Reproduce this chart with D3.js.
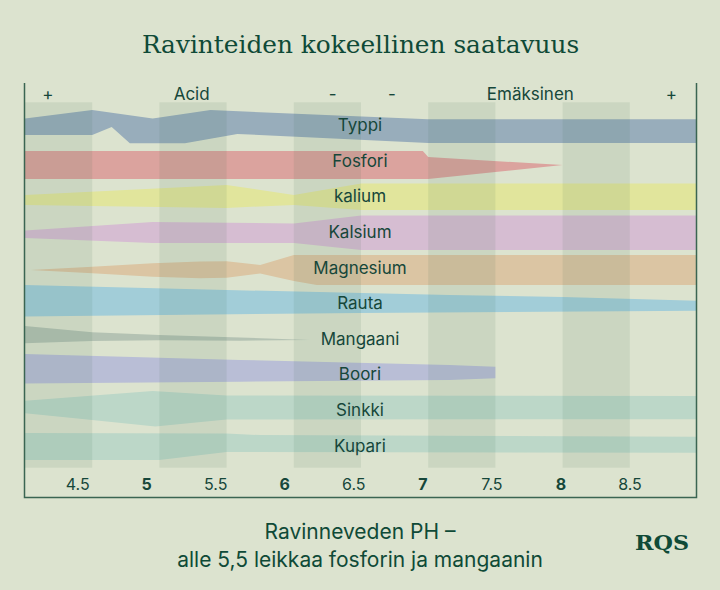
<!DOCTYPE html>
<html><head><meta charset="utf-8">
<script src="https://cdn.jsdelivr.net/npm/d3@7"></script>
<style>
html,body{margin:0;padding:0;background:#dce3cf;}
svg{display:block;}
</style></head>
<body>
<svg id="chart" width="720" height="590"></svg>
<script>
// ---- data ----
const nutrients = ["Typpi","Fosfori","kalium","Kalsium","Magnesium","Rauta","Mangaani","Boori","Sinkki","Kupari"];
const bandColors = ["#98adbb","#dba39e","#e1e59c","#d6bdd2","#dbc5a3","#a2cdd8","#b4c2b3","#b9bed6","#bcd7c8","#bcd7c8"];
// edges: [pH, relative availability offset] (upper edge, lower edge)
const typpiTop = [[4.0,3.65],[4.5,8.4],[4.95,3.65],[5.38,8.4],[7.0,3.2],[9.0,3.2]];
const typpiBottom = [[4.0,-5.6],[4.5,-5.6],[4.645,-1.1],[4.78,-10.3],[5.19,-10.3],[5.58,-5.05],[7.0,-10.1],[9.0,-10.1]];
const fosforiTop = [[4.0,5.4],[6.96,5.4],[7.0,2.0],[8.0,-2.5]];
const fosforiBottom = [[4.0,-10.3],[7.0,-10.3],[8.0,-2.5]];
const kaliumTop = [[4.0,0.67],[5.5,6.3],[6.0,0.67],[6.5,7.1],[9.0,7.1]];
const kaliumBottom = [[4.0,-4.9],[5.5,-6.6],[6.0,-4.9],[6.5,-7.75],[9.0,-7.75]];
const kalsiumTop = [[3.95,-1.4],[4.0,0.73],[4.95,5.5],[6.0,4.66],[6.5,9.16],[9.0,9.16]];
const kalsiumBottom = [[3.95,-1.4],[4.0,-3.5],[4.95,-6.3],[6.0,-6.3],[6.5,-10.2],[9.0,-10.2]];
const magnesiumTop = [[4.04,-1.46],[4.5,0.4],[4.95,2.3],[5.3,3.3],[5.5,3.5],[5.75,1.35],[6.0,7.0],[9.0,7.0]];
const magnesiumBottom = [[4.04,-1.46],[4.5,-3.3],[4.95,-5.2],[5.3,-6.1],[5.5,-5.8],[5.75,-3.4],[6.0,-7.6],[6.17,-9.9],[9.0,-9.9]];
const rautaTop = [[4.0,10.1],[5.5,7.3],[7.16,4.5],[8.0,3.4],[9.0,1.3]];
const rautaBottom = [[4.0,-7.6],[6.5,-5.6],[9.0,-4.3]];
const mangaaniTop = [[4.0,7.1],[4.5,3.5],[5.0,2.0],[5.6,0.6],[6.12,-0.8]];
const mangaaniBottom = [[4.0,-2.6],[4.5,-1.35],[5.0,-0.95],[5.6,-1.2],[6.12,-0.8]];
const booriTop = [[4.0,11.35],[5.6,8.0],[7.16,5.2],[7.5,4.2]];
const booriBottom = [[4.0,-5.2],[5.6,-4.2],[7.16,-3.3],[7.5,-2.3]];
const sinkkiTop = [[4.0,5.1],[4.95,10.6],[5.5,8.0],[9.0,7.75]];
const sinkkiBottom = [[4.0,-2.0],[4.5,-5.7],[4.97,-9.4],[5.5,-5.45],[9.0,-5.3]];
const kupariTop = [[4.0,7.0],[5.5,6.7],[5.75,5.8],[9.0,4.9]];
const kupariBottom = [[4.0,-8.2],[5.0,-8.2],[5.5,-3.7],[9.0,-4.1]];
const topEdges = [typpiTop,fosforiTop,kaliumTop,kalsiumTop,magnesiumTop,rautaTop,mangaaniTop,booriTop,sinkkiTop,kupariTop];
const bottomEdges = [typpiBottom,fosforiBottom,kaliumBottom,kalsiumBottom,magnesiumBottom,rautaBottom,mangaaniBottom,booriBottom,sinkkiBottom,kupariBottom];
const shadedRanges = [[4,4.5],[5,5.5],[6,6.5],[7,7.5],[8,8.5]];
const tickValues = [4.5,5,5.5,6,6.5,7,7.5,8,8.5];
const tickLabels = ["4.5","5","5.5","6","6.5","7","7.5","8","8.5"];
const headerLabels = ["+","Acid","-","-","Emäksinen","+"];
const headerPH = [4.17,5.24,6.29,6.73,7.76,8.81];
const title = "Ravinteiden kokeellinen saatavuus";
const subtitleLines = ["Ravinneveden PH –","alle 5,5 leikkaa fosforin ja mangaanin"];

// ---- drawing ----
const ink = "#16473a";
const svg = d3.select("#chart");
const plot = {left:25, right:697, top:102.3, bottom:467.7};

const x = d3.scaleLinear().domain([4,9]).range([plot.left, plot.right]);
const xLabel = d3.scaleLinear().domain([4.5,8.5]).range([77.7,630]);
const yRow = d3.scaleBand().domain(nutrients).range([107.2,463.2]);
const off = d3.scaleLinear().domain([-10,10]).range([17.8,-17.8]);

svg.append("rect").attr("width",720).attr("height",590).attr("fill","#dce3cf");

svg.append("defs").append("clipPath").attr("id","clip")
  .append("rect").attr("x",plot.left).attr("y",80).attr("width",plot.right-plot.left).attr("height",420);

const line = d3.line();
const gBands = svg.append("g").attr("clip-path","url(#clip)");
nutrients.forEach((n,i)=>{
  const cy = yRow(n) + yRow.bandwidth()/2;
  const pts = topEdges[i].map(d=>[x(d[0]), cy+off(d[1])])
    .concat(bottomEdges[i].slice().reverse().map(d=>[x(d[0]), cy+off(d[1])]));
  gBands.append("path").attr("d", line(pts)+"Z").attr("fill", bandColors[i]);
});

// shaded pH columns
svg.append("g").selectAll("rect").data(shadedRanges).join("rect")
  .attr("x",d=>x(d[0])).attr("width",d=>x(d[1])-x(d[0]))
  .attr("y",plot.top).attr("height",plot.bottom-plot.top)
  .attr("fill","#3f6b50").attr("fill-opacity",0.1);

// nutrient labels
svg.append("g").selectAll("text").data(nutrients).join("text")
  .attr("x",360).attr("y",d=>yRow(d)+yRow.bandwidth()/2)
  .attr("dy","0.36em").attr("text-anchor","middle")
  .attr("font-family","Inter, 'Noto Sans', sans-serif").attr("font-size",17)
  .attr("fill",ink).text(d=>d);

// frame
svg.append("path")
  .attr("d",`M24.5,83V497.5H696.5V83`)
  .attr("fill","none").attr("stroke","#3a6552").attr("stroke-width",1.5);

// header
svg.append("g").selectAll("text").data(headerLabels).join("text")
  .attr("x",(d,i)=>x(headerPH[i])).attr("y",100)
  .attr("text-anchor","middle")
  .attr("font-family","Inter, 'Noto Sans', sans-serif").attr("font-size",17)
  .attr("fill",ink).text(d=>d);

// tick labels
svg.append("g").selectAll("text").data(tickValues).join("text")
  .attr("x",d=>xLabel(d)).attr("y",490)
  .attr("text-anchor","middle")
  .attr("font-family","Inter, 'Noto Sans', sans-serif").attr("font-size",16)
  .attr("font-weight",(d)=>Number.isInteger(d)?700:400)
  .attr("fill",ink).text((d,i)=>tickLabels[i]);

// title
svg.append("text").attr("x",360.5).attr("y",53).attr("text-anchor","middle")
  .attr("font-family","'DejaVu Serif', serif").attr("font-size",24.8)
  .attr("fill","#0f4a37").text(title);

// subtitle
svg.append("g").selectAll("text").data(subtitleLines).join("text")
  .attr("x",360).attr("y",(d,i)=>539+i*27.5).attr("text-anchor","middle")
  .attr("font-family","Inter, 'Noto Sans', sans-serif").attr("font-size",21)
  .attr("fill","#0f4a37").text(d=>d);

// logo
svg.append("text").attr("x",635).attr("y",550)
  .attr("font-family","'DejaVu Serif', serif").attr("font-weight",700).attr("font-size",20)
  .attr("textLength",54).attr("lengthAdjust","spacingAndGlyphs")
  .attr("fill","#0f4a37").text("RQS");
</script>
</body></html>
